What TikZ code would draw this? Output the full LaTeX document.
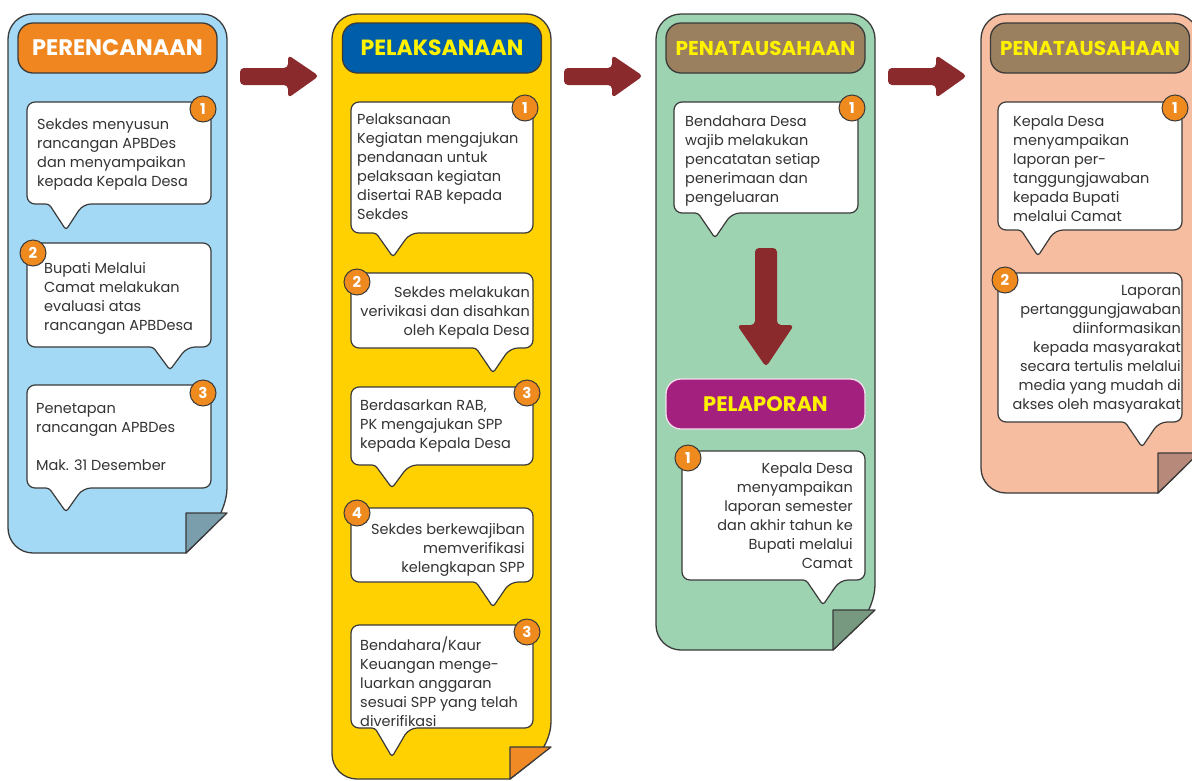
\documentclass[tikz,border=0pt]{standalone}
\usepackage{fontspec}
\setmainfont{Poppins}
\definecolor{lineg}{HTML}{3A3A3A}
\definecolor{textc}{HTML}{333333}
\definecolor{blueP}{HTML}{A3D9F5}
\definecolor{blueF}{HTML}{7A9EAC}
\definecolor{yellowP}{HTML}{FFD100}
\definecolor{yellowF}{HTML}{F08A24}
\definecolor{greenP}{HTML}{9DD3B0}
\definecolor{greenF}{HTML}{77997F}
\definecolor{salmonP}{HTML}{F7BDA0}
\definecolor{salmonF}{HTML}{B7897A}
\definecolor{hOrange}{HTML}{EF861F}
\definecolor{hBlue}{HTML}{005DAA}
\definecolor{hBrown}{HTML}{9B805F}
\definecolor{hMag}{HTML}{A4207F}
\definecolor{hYellow}{HTML}{FFF200}
\definecolor{arrowc}{HTML}{8A2A2D}
\definecolor{badgec}{HTML}{EE8A1E}
\newcommand\bodyfont{\fontsize{14.5}{19}\selectfont}
\newcommand\hfont[1]{\bfseries\fontsize{#1}{#1}\selectfont}
\newcommand\panelshape[8]{%
  \draw[panel, fill=#7] (#5,#4) [rounded corners=25pt] -- (#1,#4) -- (#1,#2) -- (#3,#2) -- (#3,#6) [sharp corners] -- cycle;
  \draw[panel, fill=#8, line join=round] (#5,#6) -- (#3,#6) -- (#5,#4) -- cycle;}
\newcommand\callout[6]{%
  \draw[callout] ({#5-17},#4) [rounded corners=8pt] -- (#1,#4) -- (#1,#2) -- (#3,#2) -- (#3,#4) -- ({#5+17},#4) [rounded corners=3pt] -- (#5,#6) -- cycle;}
\newcommand\rarrow[1]{%
  \fill[blockarrow] (#1,68) -- ({#1+48},68) -- ({#1+48},55) -- ({#1+79},76) -- ({#1+48},98) -- ({#1+48},85) -- (#1,85) -- cycle;}
\begin{document}
\begin{tikzpicture}[x=1pt,y=-1pt,
  panel/.style={draw=lineg, line width=1.3pt},
  hdr/.style={draw=lineg, line width=1.3pt, rounded corners=15pt, minimum width=199pt, minimum height=50pt, inner sep=0pt},
  callout/.style={draw=lineg, fill=white, line width=1.2pt},
  badge/.style={circle, draw=lineg, fill=badgec, line width=1pt, minimum size=26pt, inner sep=0pt, text=white, font=\bfseries\fontsize{15}{15}\selectfont},
  txt/.style={inner sep=0pt, text=textc, font=\bodyfont},
  blockarrow/.style={fill=arrowc, rounded corners=4pt}]
\useasboundingbox (0,0) rectangle (1192,780);

% ---------- panels ----------
\panelshape{8}{14}{227}{553}{186}{513}{blueP}{blueF}
\panelshape{332}{14}{551}{779}{510}{747}{yellowP}{yellowF}
\panelshape{656}{14}{875}{650}{833}{610}{greenP}{greenF}
\panelshape{981}{14}{1199}{493}{1158}{453}{salmonP}{salmonF}

% ---------- arrows ----------
\rarrow{240}
\rarrow{564}
\rarrow{888}
\fill[blockarrow] (755,248) -- (777,248) -- (777,325) -- (794,325) -- (766,367) -- (737,325) -- (755,325) -- cycle;

% ---------- headers ----------
\node[hdr, fill=hOrange, text=white, font=\hfont{22.5}] (h1) at (117.5,48) {PERENCANAAN};
\node[hdr, fill=hBlue, text=hYellow, font=\hfont{22}] (h2) at (442,48) {PELAKSANAAN};
\node[hdr, fill=hBrown, text=hYellow, font=\hfont{20}] (h3) at (765.5,48) {PENATAUSAHAAN};
\node[hdr, fill=hMag, text=hYellow, draw=white!85!hMag, font=\hfont{21}] (h4) at (765.5,404) {PELAPORAN};
\node[hdr, fill=hBrown, text=hYellow, font=\hfont{20}] (h5) at (1090,48) {PENATAUSAHAAN};

% ---------- column 1 ----------
\callout{27}{102}{211}{204}{66}{230}
\callout{27}{243}{211}{347}{170}{370}
\callout{27}{385}{211}{488}{66}{512}
\node[txt, anchor=north west, align=left] (t11) at (37,119) {Sekdes menyusun\\rancangan APBDes\\dan menyampaikan\\kepada Kepala Desa};
\node[txt, anchor=north west, align=left] (t12) at (44,262) {Bupati Melalui\\Camat melakukan\\evaluasi atas\\rancangan APBDesa};
\node[txt, anchor=north west, align=left] (t13) at (36,403) {Penetapan\\rancangan APBDes\\[19pt]Mak. 31 Desember};
\node[badge] (b11) at (203,109) {1};
\node[badge] (b12) at (33,253) {2};
\node[badge] (b13) at (203,393) {3};

% ---------- column 2 ----------
\callout{351}{102}{533}{233}{393}{257}
\callout{351}{273}{533}{348}{493}{373}
\callout{351}{387}{533}{465}{392}{488}
\callout{351}{508}{533}{582}{493}{607}
\callout{351}{625}{533}{728}{392}{757}
\node[txt, anchor=north west, align=left] (t21) at (357,114) {Pelaksanaan\\Kegiatan mengajukan\\pendanaan untuk\\pelaksaan kegiatan\\disertai RAB kepada\\Sekdes};
\node[txt, anchor=north east, align=right] (t22) at (530,287) {Sekdes melakukan\\verivikasi dan disahkan\\oleh Kepala Desa};
\node[txt, anchor=north west, align=left] (t23) at (360,400) {Berdasarkan RAB,\\PK mengajukan SPP\\kepada Kepala Desa};
\node[txt, anchor=north east, align=right] (t24) at (525,523) {Sekdes berkewajiban\\memverifikasi\\kelengkapan SPP};
\node[txt, anchor=north west, align=left] (t25) at (360,637) {Bendahara/Kaur\\Keuangan menge-\\luarkan anggaran\\sesuai SPP yang telah\\diverifikasi};
\node[badge] (b21) at (525,108) {1};
\node[badge] (b22) at (357,282) {2};
\node[badge] (b23) at (527,393) {3};
\node[badge] (b24) at (357,513) {4};
\node[badge] (b25) at (527,632) {3};

% ---------- column 3 ----------
\callout{674}{102}{858}{213}{715}{238}
\callout{682}{451}{865}{580}{823}{605}
\node[txt, anchor=north west, align=left] (t31) at (685,116) {Bendahara Desa\\wajib melakukan\\pencatatan setiap\\penerimaan dan\\pengeluaran};
\node[txt, anchor=north east, align=right] (t32) at (853,463) {Kepala Desa\\menyampaikan\\laporan semester\\dan akhir tahun ke\\Bupati melalui\\Camat};
\node[badge] (b31) at (852,108) {1};
\node[badge] (b32) at (688,458) {1};

% ---------- column 4 ----------
\callout{998}{102}{1182}{230}{1038}{256}
\callout{998}{273}{1182}{422}{1142}{447}
\node[txt, anchor=north west, align=left] (t41) at (1013,116) {Kepala Desa\\menyampaikan\\laporan per-\\tanggungjawaban\\kepada Bupati\\melalui Camat};
\node[txt, anchor=north east, align=right] (t42) at (1181,285) {Laporan\\pertanggungjawaban\\diinformasikan\\kepada masyarakat\\secara tertulis melalui\\media yang mudah di\\akses oleh masyarakat};
\node[badge] (b41) at (1175,108) {1};
\node[badge] (b42) at (1005,280) {2};
\end{tikzpicture}
\end{document}
